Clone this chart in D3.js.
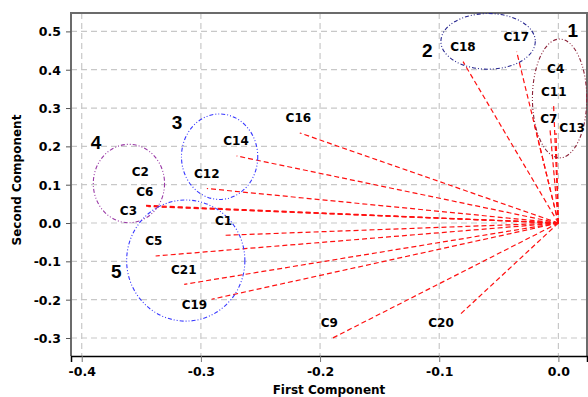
<!DOCTYPE html>
<html>
<head>
<meta charset="utf-8">
<script src="https://cdnjs.cloudflare.com/ajax/libs/d3/7.8.5/d3.min.js"></script>
<style>
  body { margin: 0; background: #fff; }
  .lbl { font-family: "DejaVu Sans", Verdana, sans-serif; font-weight: bold; font-size: 12px; fill: #000; }
  .grp { font-family: "Liberation Sans", Arial, sans-serif; font-weight: bold; font-size: 19px; fill: #000; }
  .tick text { font-family: "DejaVu Sans", Verdana, sans-serif; font-weight: bold; font-size: 12.5px; fill: #000; }
  .title { font-family: "DejaVu Sans", Verdana, sans-serif; font-weight: bold; font-size: 12px; fill: #000; }
</style>
</head>
<body>
<div id="chart"></div>
<script>
// loadings
const names = ["C1","C2","C3","C4","C5","C6","C7","C9","C11","C12","C13","C14","C16","C17","C18","C19","C20","C21"];
const pc1   = [-0.280,-0.346,-0.346,-0.021,-0.338,-0.344,-0.007,-0.190,-0.004,-0.295,-0.002,-0.270,-0.217,-0.035,-0.080,-0.291,-0.083,-0.314];
const pc2   = [-0.032, 0.046, 0.044, 0.268,-0.086, 0.043, 0.243,-0.301, 0.305, 0.090, 0.235, 0.175, 0.235, 0.447, 0.421,-0.199,-0.240,-0.160];
// where each name sits (data units)
const labelX = [-0.2809,-0.3508,-0.3608,-0.0023,-0.3395,-0.3470,-0.0081,-0.1922,-0.0039,-0.2951, 0.0115,-0.2705,-0.2182,-0.0353,-0.0801,-0.3054,-0.0985,-0.3144];
const labelY = [ 0.005, 0.133, 0.031, 0.404,-0.045, 0.081, 0.271,-0.261, 0.344, 0.130, 0.248, 0.214, 0.274, 0.485, 0.459,-0.212,-0.261,-0.123];

// cluster ellipses
const groups  = ["1","2","3","4","5"];
const grpCx   = [ 0.001,-0.059,-0.2843,-0.3604,-0.3127];
const grpCy   = [ 0.325, 0.474, 0.173, 0.103,-0.098];
const grpRx   = [ 0.0228, 0.0396, 0.032, 0.0299, 0.0496];
const grpRy   = [ 0.155, 0.0726, 0.1115, 0.1023, 0.158];
const grpTx   = [ 0.012,-0.110,-0.320,-0.388,-0.371];
const grpTy   = [ 0.503, 0.451, 0.262, 0.210,-0.125];
const grpCol  = ["#8b2238","#26268f","#3838ff","#9a3aa6","#3838ff"];

const xTicks = [-0.4,-0.3,-0.2,-0.1,0.0];
const yTicks = [-0.3,-0.2,-0.1,0.0,0.1,0.2,0.3,0.4,0.5];

const width = 588, height = 397;
const mLeft = 71, mRight = 587, mTop = 13, mBottom = 356;

const svg = d3.select("#chart").append("svg").attr("width", width).attr("height", height);

const x = d3.scaleLinear().domain([-0.409, 0.024]).range([mLeft, mRight]);
const y = d3.scaleLinear().domain([-0.347, 0.548]).range([mBottom, mTop]);

// grid
svg.append("g").selectAll("line").data(xTicks).enter().append("line")
  .attr("x1", d => x(d)).attr("x2", d => x(d)).attr("y1", mTop).attr("y2", mBottom)
  .attr("stroke", "#c8c8c8").attr("stroke-width", 1.2).attr("stroke-dasharray", "6,4");
svg.append("g").selectAll("line").data(yTicks).enter().append("line")
  .attr("x1", mLeft).attr("x2", mRight).attr("y1", d => y(d)).attr("y2", d => y(d))
  .attr("stroke", "#c8c8c8").attr("stroke-width", 1.2).attr("stroke-dasharray", "6,4");

// frame
svg.append("path")
  .attr("d", `M${mLeft},${mBottom}V${mTop}H${mRight}V${mBottom}`)
  .attr("fill", "none").attr("stroke", "#6b6b6b").attr("stroke-width", 2);

// axes
const fmt = d => d3.format(".1f")(d).replace("\u2212", "-");
const xAxis = svg.append("g").attr("transform", `translate(0,${mBottom})`)
  .call(d3.axisBottom(x).tickValues(xTicks).tickFormat(fmt).tickSize(6).tickPadding(5));
xAxis.select(".domain").attr("stroke", "#000").attr("stroke-width", 1.5);
xAxis.selectAll(".tick line").attr("stroke", "#777");

const yAxis = svg.append("g").attr("transform", `translate(${mLeft},0)`)
  .call(d3.axisLeft(y).tickValues(yTicks).tickFormat(fmt).tickSize(5).tickPadding(5));
yAxis.select(".domain").remove();
yAxis.selectAll(".tick line").attr("stroke", "#555");
yAxis.selectAll(".tick text").attr("dy", "0.36em");

svg.append("text").attr("class", "title")
  .attr("x", 329).attr("y", 394).attr("text-anchor", "middle").text("First Component");
svg.append("text").attr("class", "title")
  .attr("transform", "translate(21,180) rotate(-90)").attr("text-anchor", "middle").text("Second Component");

// vectors from origin
svg.append("g").selectAll("line").data(names).enter().append("line")
  .attr("x1", x(0)).attr("y1", y(0))
  .attr("x2", (d, i) => x(pc1[i])).attr("y2", (d, i) => y(pc2[i]))
  .attr("stroke", "#ff1010").attr("stroke-width", 1.2).attr("stroke-dasharray", "5,3");

// ellipses
svg.append("g").selectAll("ellipse").data(groups).enter().append("ellipse")
  .attr("cx", (d, i) => x(grpCx[i])).attr("cy", (d, i) => y(grpCy[i]))
  .attr("rx", (d, i) => x(grpRx[i]) - x(0)).attr("ry", (d, i) => y(0) - y(grpRy[i]))
  .attr("fill", "none").attr("stroke", (d, i) => grpCol[i]).attr("stroke-width", 1.1)
  .attr("stroke-dasharray", "4,2,1,2,1,2");

svg.append("g").selectAll("text").data(groups).enter().append("text")
  .attr("class", "grp")
  .attr("x", (d, i) => x(grpTx[i])).attr("y", (d, i) => y(grpTy[i]))
  .attr("text-anchor", "middle").attr("dy", "0.35em").text(d => d);

// variable names
svg.append("g").selectAll("text").data(names).enter().append("text")
  .attr("class", "lbl")
  .attr("x", (d, i) => x(labelX[i])).attr("y", (d, i) => y(labelY[i]))
  .attr("text-anchor", "middle").attr("dy", "0.36em").text(d => d);
</script>
</body>
</html>
